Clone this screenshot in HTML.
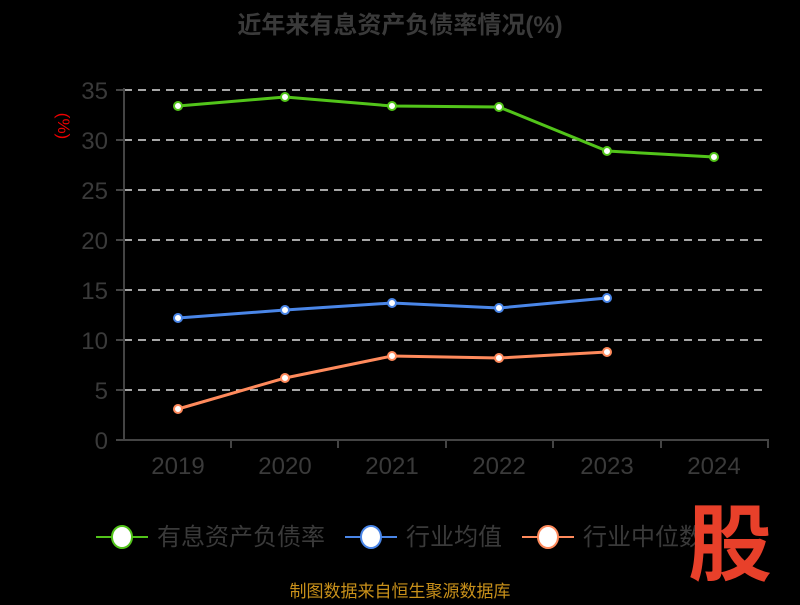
<!DOCTYPE html>
<html><head><meta charset="utf-8"><style>
body{margin:0;background:#000;width:800px;height:600px;overflow:hidden}
text{font-family:"Liberation Sans","Noto Sans CJK SC",sans-serif}
</style></head><body>
<svg width="800" height="600" xmlns="http://www.w3.org/2000/svg">
<rect width="800" height="600" fill="#000"/>
<text x="400" y="33" text-anchor="middle" font-size="24" font-weight="bold" fill="#3a3a3a">近年来有息资产负债率情况(%)</text>
<text transform="translate(58,126) rotate(90)" text-anchor="middle" font-size="17" fill="#e00">(%)</text>
<g stroke="#ddd" stroke-width="1.5" stroke-dasharray="8,6">
<line x1="124" y1="90" x2="768" y2="90"/><line x1="124" y1="140" x2="768" y2="140"/><line x1="124" y1="190" x2="768" y2="190"/><line x1="124" y1="240" x2="768" y2="240"/><line x1="124" y1="290" x2="768" y2="290"/><line x1="124" y1="340" x2="768" y2="340"/><line x1="124" y1="390" x2="768" y2="390"/>
</g>
<g stroke="#444" stroke-width="2">
<line x1="124" y1="88" x2="124" y2="441"/><line x1="123" y1="440" x2="769" y2="440"/>
<line x1="116" y1="90" x2="124" y2="90"/><line x1="116" y1="140" x2="124" y2="140"/><line x1="116" y1="190" x2="124" y2="190"/><line x1="116" y1="240" x2="124" y2="240"/><line x1="116" y1="290" x2="124" y2="290"/><line x1="116" y1="340" x2="124" y2="340"/><line x1="116" y1="390" x2="124" y2="390"/><line x1="116" y1="440" x2="124" y2="440"/>
<line x1="231" y1="440" x2="231" y2="448"/><line x1="338" y1="440" x2="338" y2="448"/><line x1="446" y1="440" x2="446" y2="448"/><line x1="553" y1="440" x2="553" y2="448"/><line x1="661" y1="440" x2="661" y2="448"/><line x1="768" y1="440" x2="768" y2="448"/>
</g>
<g font-size="24" fill="#3a3a3a" text-anchor="end">
<text x="108" y="99">35</text><text x="108" y="149">30</text><text x="108" y="199">25</text><text x="108" y="249">20</text><text x="108" y="299">15</text><text x="108" y="349">10</text><text x="108" y="399">5</text><text x="108" y="449">0</text>
</g>
<g font-size="24" fill="#3a3a3a" text-anchor="middle">
<text x="178" y="474">2019</text><text x="285" y="474">2020</text><text x="392" y="474">2021</text><text x="499" y="474">2022</text><text x="607" y="474">2023</text><text x="714" y="474">2024</text>
</g>
<polyline fill="none" stroke="#52c41a" stroke-width="3" points="178,106 285,97 392,106 499,107 607,151 714,157"/>
<polyline fill="none" stroke="#4a86e8" stroke-width="3" points="178,318 285,310 392,303 499,308 607,298"/>
<polyline fill="none" stroke="#ff8a5c" stroke-width="3" points="178,409 285,378 392,356 499,358 607,352"/>
<g fill="#fff" stroke-width="2">
<g stroke="#52c41a"><circle cx="178" cy="106" r="4"/><circle cx="285" cy="97" r="4"/><circle cx="392" cy="106" r="4"/><circle cx="499" cy="107" r="4"/><circle cx="607" cy="151" r="4"/><circle cx="714" cy="157" r="4"/></g>
<g stroke="#4a86e8"><circle cx="178" cy="318" r="4"/><circle cx="285" cy="310" r="4"/><circle cx="392" cy="303" r="4"/><circle cx="499" cy="308" r="4"/><circle cx="607" cy="298" r="4"/></g>
<g stroke="#ff8a5c"><circle cx="178" cy="409" r="4"/><circle cx="285" cy="378" r="4"/><circle cx="392" cy="356" r="4"/><circle cx="499" cy="358" r="4"/><circle cx="607" cy="352" r="4"/></g>
</g>
<g stroke-width="2">
<line x1="96" y1="537" x2="148" y2="537" stroke="#52c41a"/><ellipse cx="122" cy="537" rx="10" ry="11" fill="#fff" stroke="#52c41a"/>
<line x1="345" y1="537" x2="397" y2="537" stroke="#4a86e8"/><ellipse cx="371" cy="537" rx="10" ry="11" fill="#fff" stroke="#4a86e8"/>
<line x1="522" y1="537" x2="574" y2="537" stroke="#ff8a5c"/><ellipse cx="548" cy="537" rx="10" ry="11" fill="#fff" stroke="#ff8a5c"/>
</g>
<g font-size="24" fill="#3a3a3a">
<text x="157" y="545">有息资产负债率</text><text x="406" y="545">行业均值</text><text x="583" y="545">行业中位数</text>
</g>
<text x="688" y="574" font-size="84" font-weight="bold" fill="#e8402a">股</text>
<text x="400" y="597" text-anchor="middle" font-size="17" fill="#c8901a">制图数据来自恒生聚源数据库</text>
</svg>
</body></html>
